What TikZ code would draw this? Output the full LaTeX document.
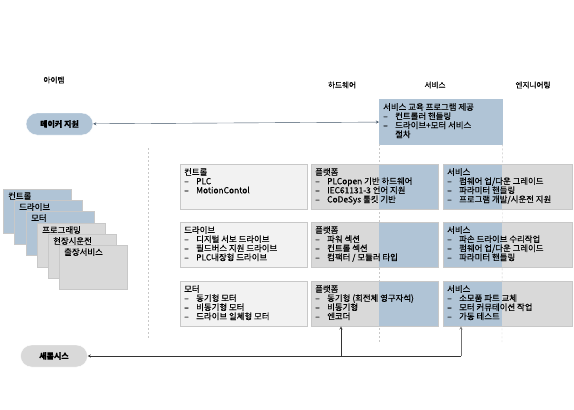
\documentclass[tikz,border=0pt]{standalone}
\usepackage{fontspec}
\setmainfont{Noto Sans CJK KR}[FakeBold=0.25]
\usetikzlibrary{calc}
\definecolor{colblue}{RGB}{176,196,214}
\definecolor{lightbox}{RGB}{242,242,242}
\definecolor{graybox}{RGB}{217,217,217}
\definecolor{edgegray}{RGB}{200,200,200}
\definecolor{arrowblue}{RGB}{60,80,100}
\newcommand{\itm}{\makebox[12pt][l]{–}}
\newcommand{\celltxt}[2]{\parbox[c][37pt][t]{#1}{#2}}
\begin{document}
\begin{tikzpicture}[x=1pt,y=-1pt,>=stealth,font=\fontsize{8.4}{9.1}\selectfont,
    pill/.style={rectangle,rounded corners=11pt,draw=white,minimum width=67pt,minimum height=22pt,font=\fontsize{8}{9}\selectfont\bfseries},
    cell/.style={rectangle,draw=edgegray,anchor=north west,inner xsep=4pt,inner ysep=4pt},
    card/.style={rectangle,draw=edgegray,anchor=north west,inner xsep=5pt,inner ysep=3pt},
    band/.style={path picture={\fill[colblue] (colL |- path picture bounding box.north) rectangle (colR |- path picture bounding box.south);}},
    guide/.style={draw=edgegray,dashed,dash pattern=on 2pt off 2pt,thin}]
    \useasboundingbox (0,0) rectangle (574,410);
    % column headers
    \node[font=\fontsize{7.6}{9}\selectfont] (hItem) at (54,80) {아이템};
    \node[font=\fontsize{7.6}{9}\selectfont] (hHw) at (342,85) {하드웨어};
    \node[font=\fontsize{7.6}{9}\selectfont] (hSvc) at (435,85) {서비스};
    \node[font=\fontsize{7.6}{9}\selectfont] (hEng) at (533,85) {엔지니어링};
    % service training
    \node[cell,fill=colblue,draw=colblue] (train) at (379,99) {\celltxt{115pt}{서비스 교육 프로그램 제공\\\itm 컨트롤러 핸들링\\\itm 드라이브+모터 서비스\\\hspace*{12pt}절차}};
    \coordinate (colL) at (379,0);
    \coordinate (colR) at (502,0);
    % guides
    \draw[guide] (148,148) -- (148,338);
    \draw[guide] (train.south west) -- (379,342);
    \draw[guide] (train.south east) -- (502,342);
    % item cards
    \node[card,fill=colblue] (cCtrl) at (3,189) {\parbox[c][38pt][t]{58pt}{컨트롤}};
    \node[card,fill=colblue] (cDrv) at (14,200) {\parbox[c][38pt][t]{58pt}{드라이브}};
    \node[card,fill=colblue] (cMot) at (26,211) {\parbox[c][38pt][t]{58pt}{모터}};
    \node[card,fill=graybox] (cProg) at (37,223) {\parbox[c][38pt][t]{58pt}{프로그래밍}};
    \node[card,fill=graybox] (cComm) at (48,234) {\parbox[c][38pt][t]{58pt}{현장시운전}};
    \node[card,fill=graybox] (cTrip) at (59,245) {\parbox[c][38pt][t]{58pt}{출장서비스}};
    % row: control
    \node[cell,fill=lightbox] (itCtrl) at (180,164) {\celltxt{119pt}{컨트롤\\\itm PLC\\\itm MotionContol}};
    \node[cell,fill=graybox,band] (hwCtrl) at (311,164) {\celltxt{119pt}{플랫폼\\\itm PLCopen 기반 하드웨어\\\itm IEC61131-3 언어 지원\\\itm CoDeSys 툴킷 기반}};
    \node[cell,fill=graybox,band] (svCtrl) at (443,164) {\celltxt{121pt}{서비스\\\itm 펌웨어 업/다운 그레이드\\\itm 파라미터 핸들링\\\itm 프로그램 개발/시운전 지원}};
    % row: drive
    \node[cell,fill=lightbox] (itDrv) at (180,222) {\celltxt{119pt}{드라이브\\\itm 디지털 서보 드라이브\\\itm 필드버스 지원 드라이브\\\itm PLC내장형 드라이브}};
    \node[cell,fill=graybox,band] (hwDrv) at (311,222) {\celltxt{119pt}{플랫폼\\\itm 파워 섹션\\\itm 컨트롤 섹션\\\itm 컴팩터 / 모듈러 타입}};
    \node[cell,fill=graybox,band] (svDrv) at (443,222) {\celltxt{121pt}{서비스\\\itm 파손 드라이브 수리작업\\\itm 펌웨어 업/다운 그레이드\\\itm 파라미터 핸들링}};
    % row: motor
    \node[cell,fill=lightbox] (itMot) at (180,281) {\celltxt{119pt}{모터\\\itm 동기형 모터\\\itm 비동기형 모터\\\itm 드라이브 일체형 모터}};
    \node[cell,fill=graybox,band] (hwMot) at (311,281) {\celltxt{119pt}{플랫폼\\\itm 동기형 (회전체 영구자석)\\\itm 비동기형\\\itm 엔코더}};
    \node[cell,fill=graybox,band] (svMot) at (443,281) {\celltxt{121pt}{서비스\\\itm 소모품 파트 교체\\\itm 모터 커뮤테이션 작업\\\itm 가동 테스트}};
    % partners
    \node[pill,fill=colblue] (maker) at (59.5,124) {메이커 지원};
    \node[pill,fill=graybox] (saerom) at (54,356) {새롬시스};
    % arrows
    \draw[<->,arrowblue] (maker) -- (train);
    \coordinate (jHw) at (341,356);
    \coordinate (jSv) at (461,356);
    \draw[->,black!80] (jHw) -- (jHw |- hwMot.south);
    \draw[->,black!55] (jSv) -- (jSv |- svMot.south);
    \draw[->,black!80] (jSv) -- (saerom);
\end{tikzpicture}
\end{document}
